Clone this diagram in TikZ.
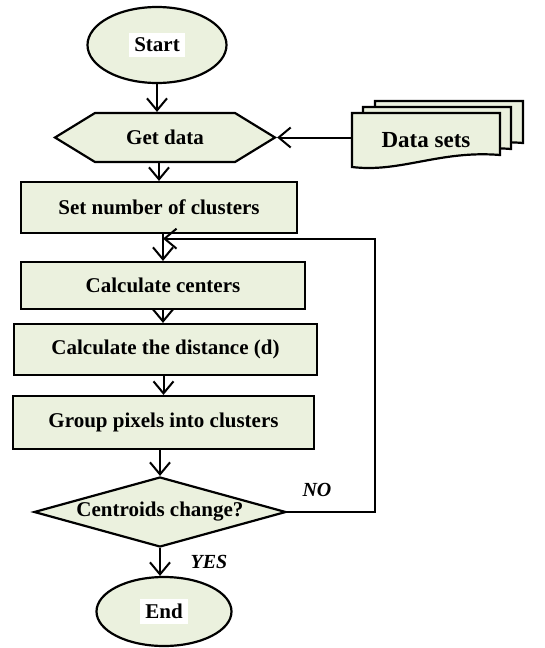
\documentclass[tikz,border=0pt]{standalone}
\usepackage{fontspec}
\setmainfont{Liberation Serif}
\usepackage{xcolor}
\usetikzlibrary{shapes.geometric, shapes.symbols, arrows.meta, positioning, calc}
\definecolor{boxfill}{HTML}{EBF1DE}
\tikzset{
    terminal/.style={
        ellipse,
        draw=black,
        line width=2.2pt,
        inner sep=0pt,
        fill=boxfill,
        font=\fontsize{21}{24}\selectfont\bfseries
    },
    inout/.style={
        signal,
        signal to=west and east,
        signal pointer angle=63,
        draw=black,
        line width=2.2pt,
        inner sep=0pt,
        fill=boxfill,
        font=\fontsize{21}{24}\selectfont\bfseries
    },
    process/.style={
        rectangle,
        draw=black,
        line width=2.2pt,
        inner sep=0pt,
        fill=boxfill,
        font=\fontsize{21}{24}\selectfont\bfseries
    },
    decision/.style={
        diamond,
        aspect=3.6,
        draw=black,
        line width=2.2pt,
        inner sep=0pt,
        fill=boxfill,
        font=\fontsize{21}{24}\selectfont\bfseries
    },
    docshape/.style={
        draw=black,
        line width=2.2pt,
        fill=boxfill
    },
    wire/.style={
        draw=black,
        line width=2pt,
        -{Straight Barb[length=12pt,width=20pt]}
    },
    answer/.style={
        font=\fontsize{20}{22}\selectfont\bfseries\itshape,
        inner sep=0pt
    }
}
\setlength{\fboxsep}{5pt}

\begin{document}
\begin{tikzpicture}[x=1pt, y=-1pt]
\useasboundingbox (0,0) rectangle (544,648);

% Start and input
\node[terminal, minimum width=139pt, minimum height=76pt] (start) at (157,45) {\colorbox{white}{Start}};
\node[inout, minimum width=220pt, minimum height=49pt] (getdata) at (165,137.5) {Get data};

% Data sets (stacked documents)
\foreach \dx/\dy in {23/-12, 11/-6, 0/0} {
    \draw[docshape, shift={(\dx,\dy)}] (352,113) -- (500,113) -- (500,155)
        .. controls (440,150) and (400,173) .. (352,167) -- cycle;
}
\node[font=\fontsize{23}{26}\selectfont\bfseries, minimum width=148pt, minimum height=54pt] (dsets) at (426,140) {Data sets};

% Main steps
\node[process, minimum width=276pt, minimum height=51pt] (setk) at (159,207.5) {Set number of clusters};
\node[process, minimum width=284pt, minimum height=47pt] (centers) at (163,285.5) {Calculate centers};
\node[process, minimum width=303pt, minimum height=51pt] (dist) at (165.5,349.5) {Calculate the distance (d)};
\node[process, minimum width=301pt, minimum height=53pt] (group) at (163.5,422.5) {Group pixels into clusters};

% Test and end
\node[decision, minimum width=252pt, minimum height=70pt] (decide) at (160,512) {Centroids change?};
\node[terminal, minimum width=135pt, minimum height=69pt] (end) at (164,611.5) {\colorbox{white}{End}};

\node[answer] (no) at (317,490) {NO};
\node[answer] (yes) at (209,562) {YES};

% Connectors
\draw[wire] (start.south) -- (start.south |- getdata.north);
\draw[wire] (dsets.west |- getdata.east) -- (getdata.east);
\draw[wire] (setk.north |- getdata.south) -- (setk.north);
\draw[wire] (centers.north |- setk.south) -- (centers.north);
\draw[wire] (centers.south) -- (centers.south |- dist.north);
\draw[wire] (group.north |- dist.south) -- (group.north);
\draw[wire] (group.south -| decide.north) -- (decide.north);
\draw[wire] (decide.south) -- (decide.south |- end.north);

% Loop back
\coordinate (loopin) at ($(centers.north |- setk.south)!0.17!(centers.north)$);
\draw[wire] (decide.east) -- ++(88,0) |- (loopin);

\end{tikzpicture}
\end{document}
